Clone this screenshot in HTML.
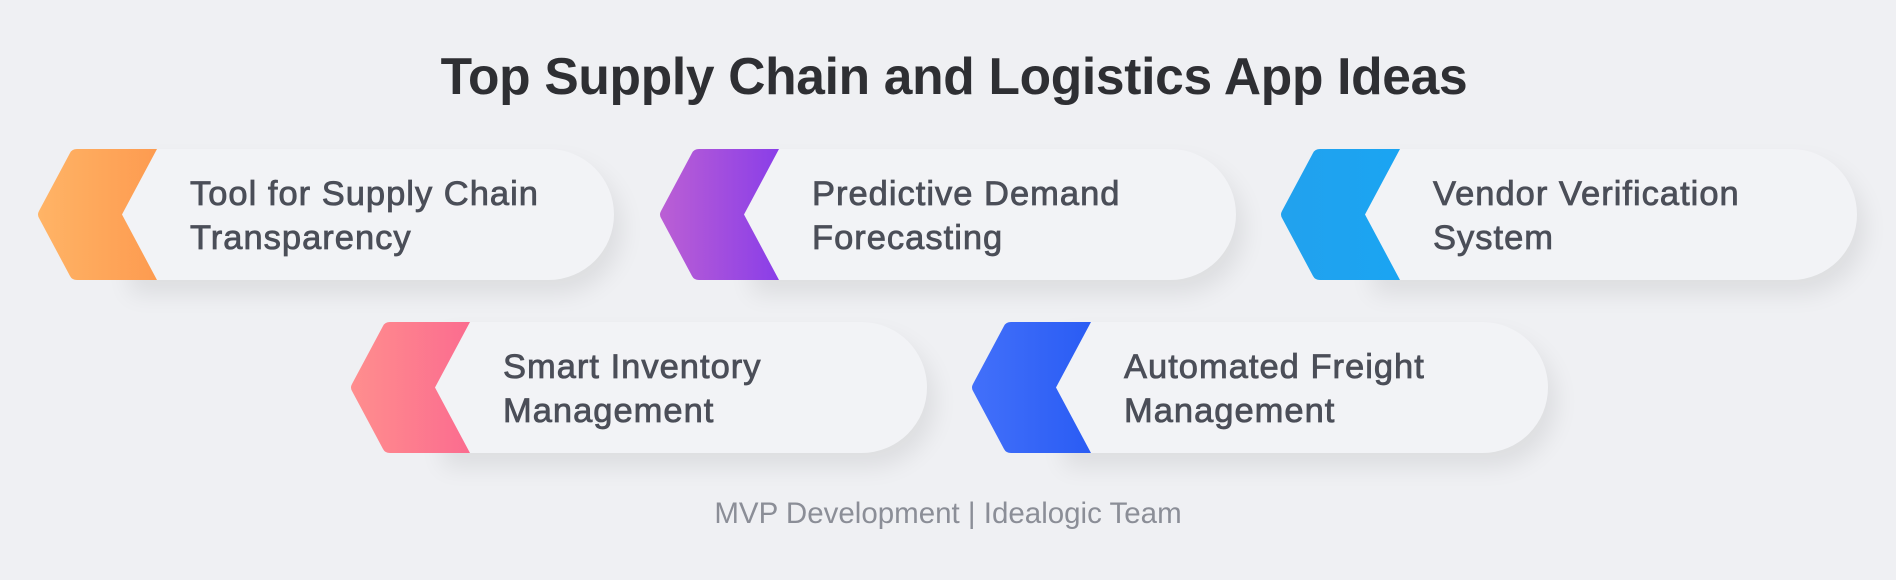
<!DOCTYPE html>
<html><head><meta charset="utf-8"><style>
html,body{margin:0;padding:0;}
body{width:1896px;height:580px;background:#eff0f3;position:relative;overflow:hidden;font-family:"Liberation Sans",sans-serif;}
.title{position:absolute;left:6px;width:1896px;top:46px;text-align:center;font-size:51.5px;font-weight:bold;color:#2e2f33;letter-spacing:-0.3px;}
.item{position:absolute;width:577px;height:131px;}
.card{position:absolute;left:85px;top:0;width:492px;height:131px;background:#f2f3f6;border-radius:0 66px 66px 0;box-shadow:8px 14px 24px rgba(0,0,0,0.08);}
.item svg{position:absolute;left:0;top:0;}
.txt{position:absolute;left:153px;top:23px;font-size:34.5px;line-height:44px;letter-spacing:1px;color:#4b4e58;-webkit-text-stroke:0.8px #4b4e58;white-space:nowrap;}
.foot{position:absolute;left:0;width:1896px;top:497px;text-align:center;font-size:29.5px;color:#8b8e97;}
</style></head><body>
<div class="title">Top Supply Chain and Logistics App Ideas</div>

<div class="item" style="left:37px;top:149px">
<div class="card"></div>
<svg width="122" height="131"><defs><linearGradient id="g1"><stop offset="0" stop-color="#ffb466"/><stop offset="1" stop-color="#fd9b50"/></linearGradient></defs>
<path d="M40 0 L120 0 L85 65.5 L120 131 L40 131 Q35 131 33 127 L2 69 Q0 65.5 2 62 L33 4 Q35 0 40 0Z" fill="url(#g1)"/></svg>
<div class="txt">Tool for Supply Chain<br>Transparency</div></div>

<div class="item" style="left:659px;top:149px">
<div class="card"></div>
<svg width="122" height="131"><defs><linearGradient id="g2"><stop offset="0" stop-color="#bb5fd4"/><stop offset="1" stop-color="#8a3ee8"/></linearGradient></defs>
<path d="M40 0 L120 0 L85 65.5 L120 131 L40 131 Q35 131 33 127 L2 69 Q0 65.5 2 62 L33 4 Q35 0 40 0Z" fill="url(#g2)"/></svg>
<div class="txt">Predictive Demand<br>Forecasting</div></div>

<div class="item" style="left:1280px;top:149px">
<div class="card"></div>
<svg width="122" height="131"><defs><linearGradient id="g3"><stop offset="0" stop-color="#22a2ee"/><stop offset="1" stop-color="#1aa4f2"/></linearGradient></defs>
<path d="M40 0 L120 0 L85 65.5 L120 131 L40 131 Q35 131 33 127 L2 69 Q0 65.5 2 62 L33 4 Q35 0 40 0Z" fill="url(#g3)"/></svg>
<div class="txt">Vendor Verification<br>System</div></div>

<div class="item" style="left:350px;top:322px">
<div class="card"></div>
<svg width="122" height="131"><defs><linearGradient id="g4"><stop offset="0" stop-color="#ff8e8e"/><stop offset="1" stop-color="#fb6c8f"/></linearGradient></defs>
<path d="M40 0 L120 0 L85 65.5 L120 131 L40 131 Q35 131 33 127 L2 69 Q0 65.5 2 62 L33 4 Q35 0 40 0Z" fill="url(#g4)"/></svg>
<div class="txt">Smart Inventory<br>Management</div></div>

<div class="item" style="left:971px;top:322px">
<div class="card"></div>
<svg width="122" height="131"><defs><linearGradient id="g5"><stop offset="0" stop-color="#4270fa"/><stop offset="1" stop-color="#2a5cf4"/></linearGradient></defs>
<path d="M40 0 L120 0 L85 65.5 L120 131 L40 131 Q35 131 33 127 L2 69 Q0 65.5 2 62 L33 4 Q35 0 40 0Z" fill="url(#g5)"/></svg>
<div class="txt">Automated Freight<br>Management</div></div>

<div class="foot">MVP Development | Idealogic Team</div>
</body></html>
